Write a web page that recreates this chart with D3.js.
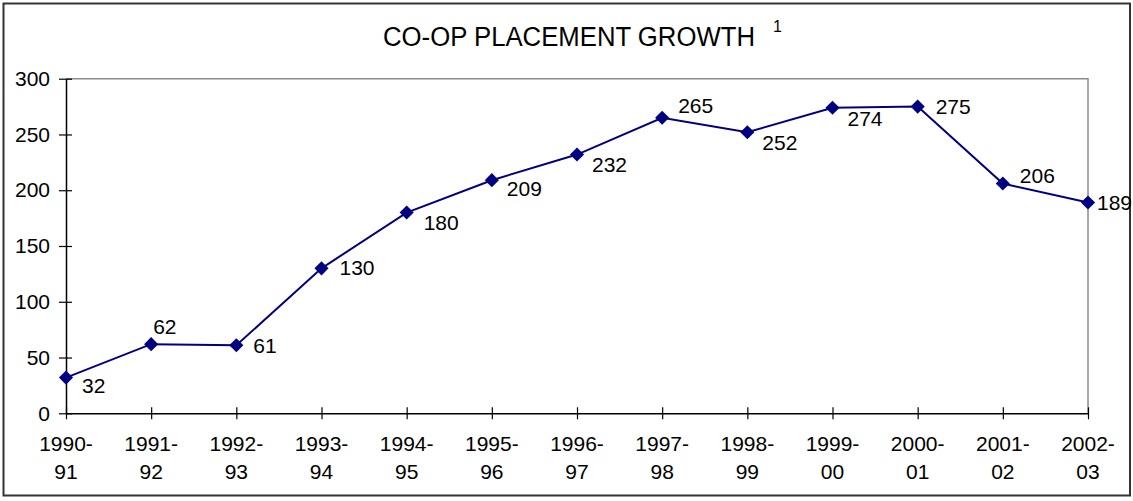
<!DOCTYPE html>
<html>
<head>
<meta charset="utf-8">
<script src="https://cdn.jsdelivr.net/npm/d3@7"></script>
<style>
  html, body { margin: 0; padding: 0; background: #fff; }
  svg { display: block; }
  text { font-family: "Liberation Sans", Arial, sans-serif; fill: #000; }
</style>
</head>
<body>
<svg id="chart" width="1133" height="501"></svg>
<script>
// Academic years (two-line labels) and placements per year
const yearStart = ["1990-", "1991-", "1992-", "1993-", "1994-", "1995-", "1996-", "1997-", "1998-", "1999-", "2000-", "2001-", "2002-"];
const yearEnd   = ["91", "92", "93", "94", "95", "96", "97", "98", "99", "00", "01", "02", "03"];
const placements = [32, 62, 61, 130, 180, 209, 232, 265, 252, 274, 275, 206, 189];
const yTicks = [0, 50, 100, 150, 200, 250, 300];

// Where each value label sits relative to its marker: [dx to left edge, dy to middle]
const labelPlacement = [
  [16, 8], [2, -18], [17, 0], [18, -1], [17, 10], [15, 8], [15, 10],
  [16, -12], [15, 10], [15, 11], [18, 0], [17, -8], [9, 0]
];

const svg = d3.select("#chart");
const W = 1133, H = 501;
const plot = { left: 66, right: 1088, top: 78.7, bottom: 413.3 };

// Outer frame
svg.append("rect")
  .attr("x", 3.5).attr("y", 3.5)
  .attr("width", W - 6.5).attr("height", H - 9)
  .attr("fill", "#fff").attr("stroke", "#333").attr("stroke-width", 2);

// Title with superscript note marker
svg.append("text")
  .attr("x", 383).attr("y", 45.5)
  .attr("font-size", 27)
  .attr("textLength", 372).attr("lengthAdjust", "spacingAndGlyphs")
  .text("CO-OP PLACEMENT GROWTH");
svg.append("text")
  .attr("x", 773).attr("y", 31.5)
  .attr("font-size", 16)
  .text("1");

const idx = d3.range(placements.length);
const x = d3.scalePoint().domain(idx).range([plot.left, plot.right]).padding(0);
const y = d3.scaleLinear().domain([0, 300]).range([plot.bottom, plot.top]);

// Plot-area border (top and right in gray)
svg.append("path")
  .attr("d", `M${plot.left},${plot.top}H${plot.right}V${plot.bottom}`)
  .attr("fill", "none").attr("stroke", "#8c8c8c").attr("stroke-width", 1.5);

// Y axis: ticks crossing the axis line
const yAxis = d3.axisLeft(y).tickValues(yTicks).tickSizeInner(7).tickSizeOuter(0).tickPadding(9);
const gy = svg.append("g").attr("transform", `translate(${plot.left},0)`).call(yAxis);
gy.select(".domain").attr("stroke", "#000").attr("stroke-width", 1.5);
gy.selectAll(".tick line").attr("stroke", "#000").attr("stroke-width", 1.2).attr("x2", 6).attr("x1", -7);
gy.selectAll(".tick text")
  .attr("x", -16)
  .attr("font-size", 21)
  .attr("font-family", "Liberation Sans, Arial, sans-serif")
  .attr("fill", "#000");

// X axis: ticks crossing, two-line category labels
const xAxis = d3.axisBottom(x).tickSizeOuter(0).tickFormat(() => "");
const gx = svg.append("g").attr("transform", `translate(0,${plot.bottom})`).call(xAxis);
gx.select(".domain").attr("stroke", "#000").attr("stroke-width", 1.5);
gx.selectAll(".tick line").attr("stroke", "#000").attr("stroke-width", 1.2).attr("y1", -6).attr("y2", 6);
gx.selectAll(".tick text").remove();

const xl = svg.append("g").selectAll("text").data(idx).join("text")
  .attr("text-anchor", "middle")
  .attr("font-size", 21)
  .attr("x", i => x(i));
xl.append("tspan").attr("x", i => x(i)).attr("y", plot.bottom + 38).text(i => yearStart[i]);
xl.append("tspan").attr("x", i => x(i)).attr("y", plot.bottom + 66).text(i => yearEnd[i]);

// Series line
svg.append("path")
  .datum(idx)
  .attr("d", d3.line().x(i => x(i)).y(i => y(placements[i])))
  .attr("fill", "none").attr("stroke", "#000080").attr("stroke-width", 2);

// Diamond markers
const diamond = d3.symbol().type(d3.symbolSquare).size(100);
svg.append("g").selectAll("path").data(idx).join("path")
  .attr("d", diamond)
  .attr("transform", i => `translate(${x(i)},${y(placements[i])}) rotate(45)`)
  .attr("fill", "#000080");

// Value labels
svg.append("g").selectAll("text").data(idx).join("text")
  .attr("x", i => x(i) + labelPlacement[i][0])
  .attr("y", i => y(placements[i]) + labelPlacement[i][1])
  .attr("dy", "0.36em")
  .attr("font-size", 21)
  .text(i => placements[i]);
</script>
</body>
</html>
